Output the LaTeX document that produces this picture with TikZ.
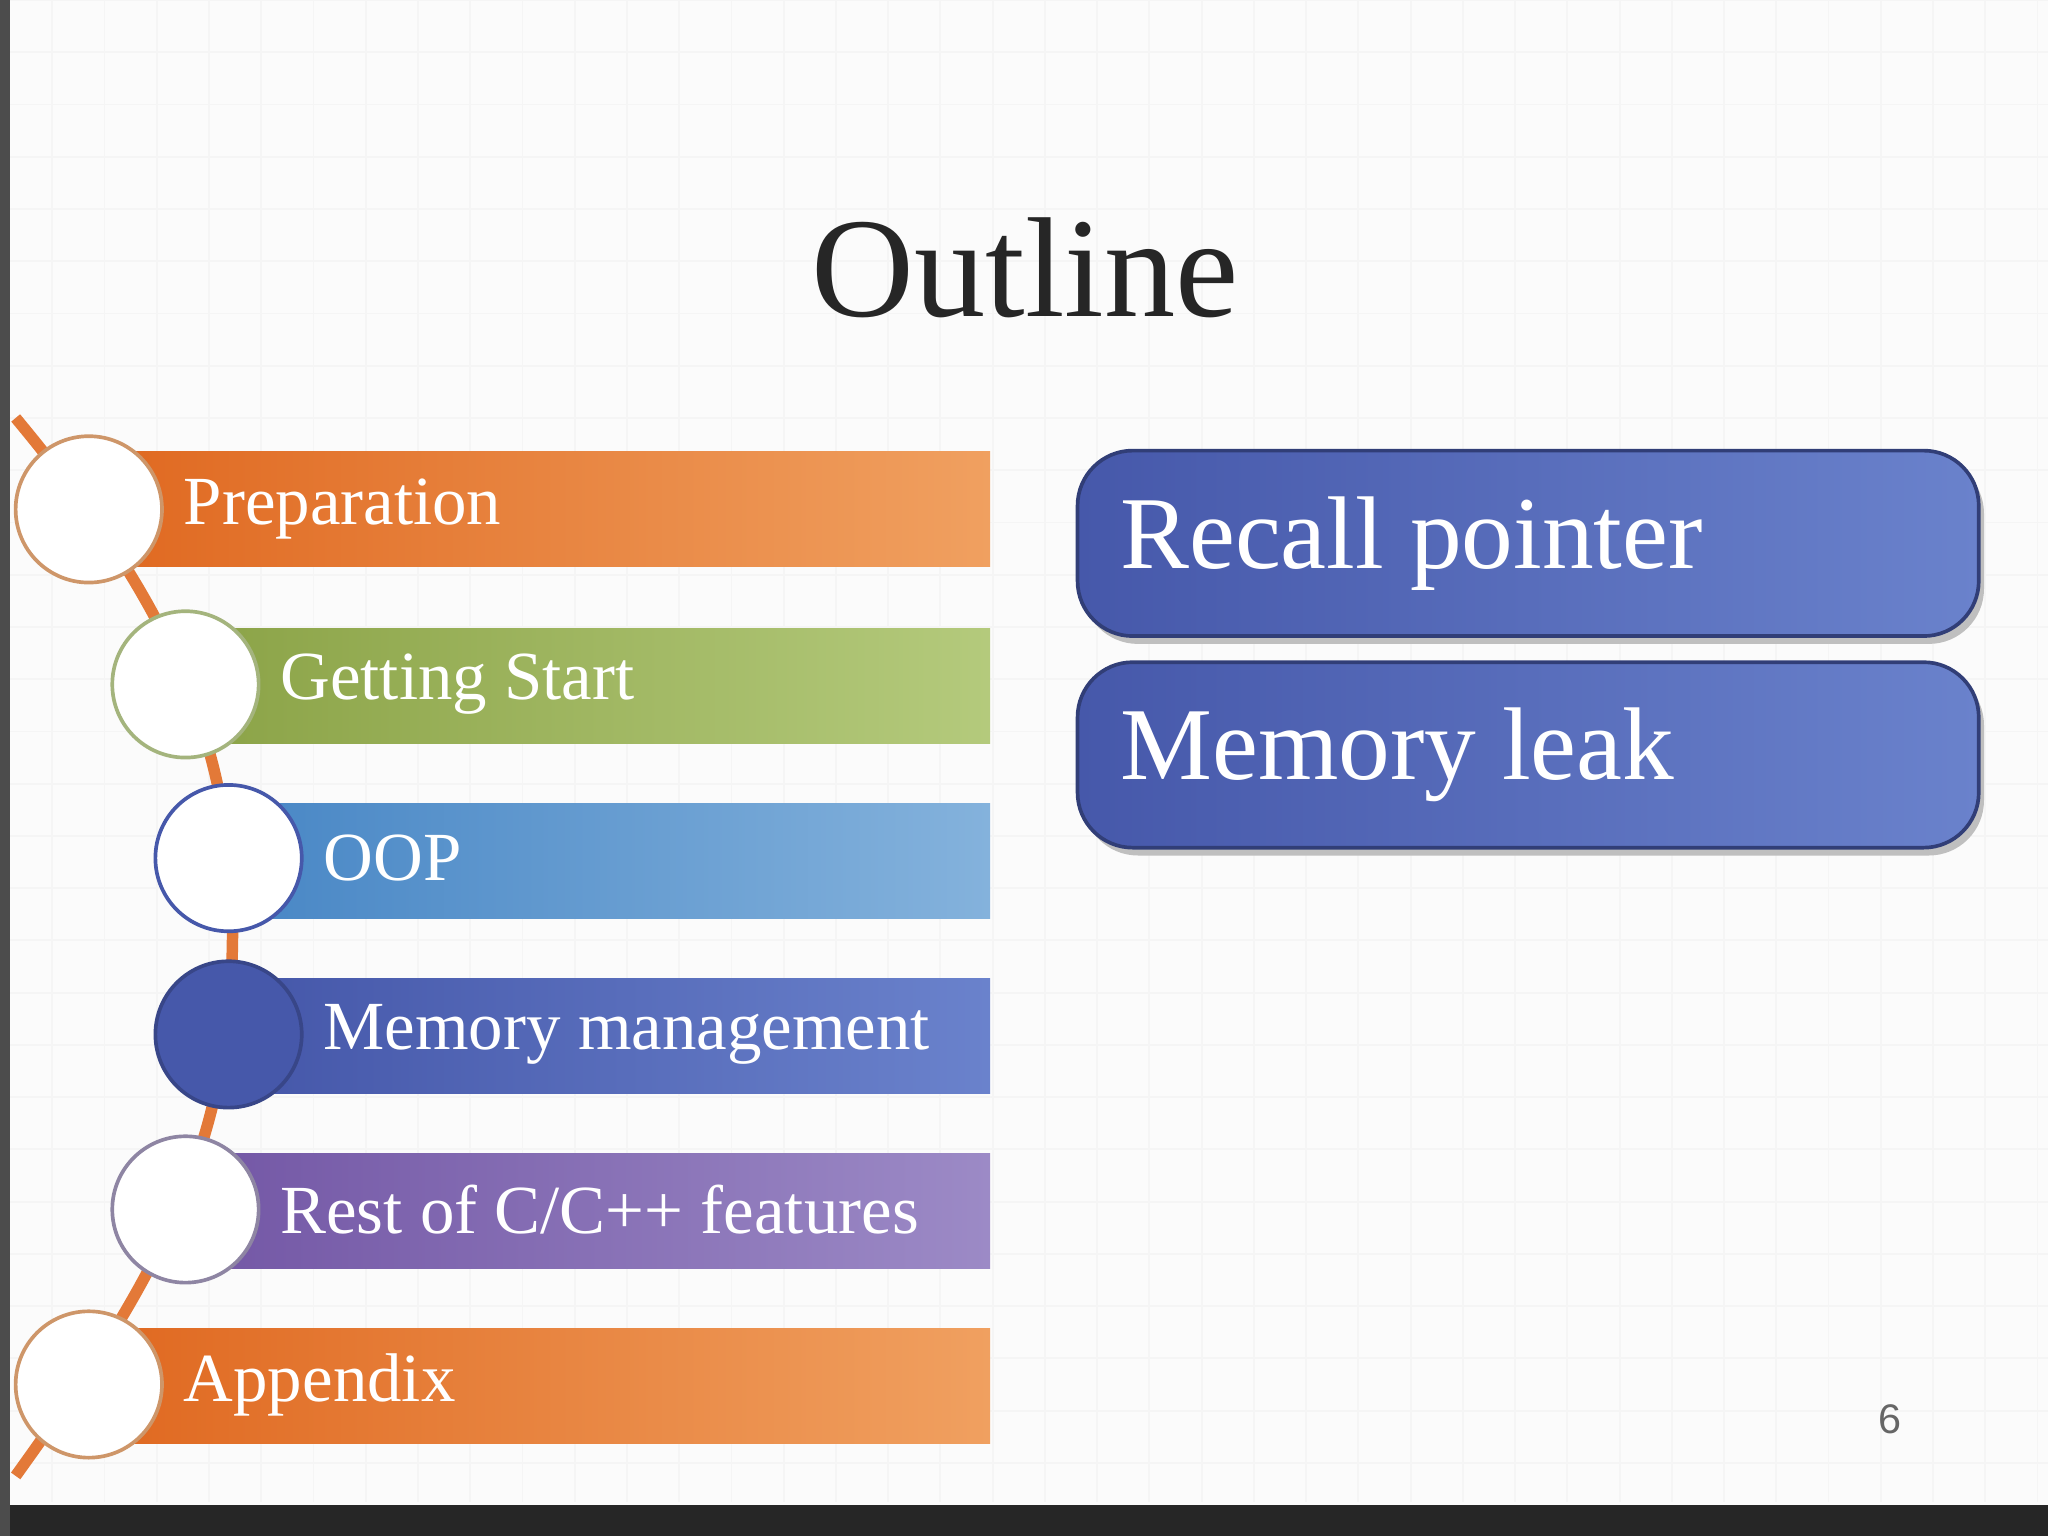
\documentclass[tikz,border=0pt]{standalone}
\usepackage{fontspec}
\setmainfont{Liberation Serif}
\setsansfont{Liberation Sans}
\begin{document}
\begin{tikzpicture}[x=0.01cm,y=-0.01cm]
\definecolor{orA}{HTML}{E06A22}\definecolor{orB}{HTML}{F0A060}
\definecolor{grA}{HTML}{8CA448}\definecolor{grB}{HTML}{B4CA7C}
\definecolor{blA}{HTML}{4A88C6}\definecolor{blB}{HTML}{84B2DC}
\definecolor{dbA}{HTML}{4658AA}\definecolor{dbB}{HTML}{6A82CC}
\definecolor{puA}{HTML}{7458A6}\definecolor{puB}{HTML}{9C8AC6}
\tikzset{
 bar/.style n args={2}{left color=#1,right color=#2},
 bartxt/.style={text=white,font=\fontsize{15}{18}\selectfont,anchor=west,inner sep=0pt},
 circ/.style={circle,draw=#1,line width=0.8pt,fill=white,minimum size=1.12cm,inner sep=0pt},
 bigbox/.style={rounded corners=12pt,left color=dbA,right color=dbB,draw=dbA!70!black,line width=0.8pt},
 bigtxt/.style={text=white,font=\fontsize{22.5}{27}\selectfont,anchor=west,inner sep=0pt}
}
\useasboundingbox (0,0) rectangle (1568,1176);
\fill[white!97!gray] (0,0) rectangle (1568,1176);
\foreach \x in {0,40,...,1560}{\draw[gray!8] (\x,0)--(\x,1150);}
\foreach \y in {0,40,...,1150}{\draw[gray!8] (0,\y)--(1568,\y);}
\fill[black!85] (0,1152) rectangle (1568,1176);
\fill[black!70] (0,0) rectangle (8,1176);
\node[font=\fontsize{31}{38}\selectfont,text=black!85] (title) at (785,205) {Outline};
\coordinate (ct) at (12,320); \coordinate (cb) at (12,1130);
\draw[orA!90,line width=2.5pt] (ct) .. controls (120,450) and (180,560) .. (178,720) .. controls (176,880) and (120,980) .. (cb);
\fill[bar={orA}{orB}] (95,346) rectangle (758,434);
\fill[bar={grA}{grB}] (165,481) rectangle (758,569);
\fill[bar={blA}{blB}] (200,615) rectangle (758,703);
\fill[bar={dbA}{dbB}] (200,749) rectangle (758,837);
\fill[bar={puA}{puB}] (165,883) rectangle (758,971);
\fill[bar={orA}{orB}] (95,1017) rectangle (758,1105);
\node[circ=orB!70!gray] (c1) at (68,390) {};
\node[circ=grB!70!gray] (c2) at (142,524) {};
\node[circ=dbA] (c3) at (175,657) {};
\node[circ=dbA!80!black,fill=dbA] (c4) at (175,792) {};
\node[circ=puB!50!gray] (c5) at (142,926) {};
\node[circ=orB!70!gray] (c6) at (68,1060) {};
\node[bartxt] (t1) at (140,390) {Preparation};
\node[bartxt] (t2) at (214,524) {Getting Start};
\node[bartxt] (t3) at (247,657) {OOP};
\node[bartxt] (t4) at (247,792) {Memory management};
\node[bartxt] (t5) at (214,926) {Rest of C/C++ features};
\node[bartxt] (t6) at (140,1060) {Appendix};
\fill[black!25,rounded corners=12pt] (829,351) rectangle (1519,493);
\fill[black!25,rounded corners=12pt] (829,513) rectangle (1519,655);
\path[bigbox] (825,345) rectangle (1515,487);
\path[bigbox] (825,507) rectangle (1515,649);
\node[bigtxt] (r1) at (857,416) {Recall pointer};
\node[bigtxt] (r2) at (857,578) {Memory leak};
\node[font=\sffamily\fontsize{9}{11}\selectfont,text=black!60] (pg) at (1447,1087) {6};
\end{tikzpicture}
\end{document}
